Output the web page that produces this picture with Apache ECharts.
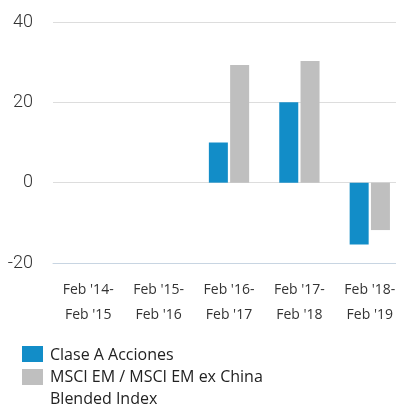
<!DOCTYPE html>
<html>
<head>
<meta charset="utf-8">
<script src="https://cdn.jsdelivr.net/npm/echarts@6/dist/echarts.min.js"></script>
<style>
  html, body { margin: 0; padding: 0; background: #fff; }
  #chart { width: 396px; height: 408px; }
</style>
</head>
<body>
<div id="chart"></div>
<script>
// Annual periods (Feb to Feb)
const categories = [
  "Feb '14-\nFeb '15",
  "Feb '15-\nFeb '16",
  "Feb '16-\nFeb '17",
  "Feb '17-\nFeb '18",
  "Feb '18-\nFeb '19"
];
const seriesNames = ["Clase A Acciones", "MSCI EM / MSCI EM ex China\nBlended Index"];
// Returns (%) per period; no data for the first two periods
const classA = [null, null, 10.0, 20.0, -15.4];
const benchmark = [null, null, 29.3, 30.3, -11.8];
const yTicks = [-20, 0, 20, 40];

const colors = ["#128dc8", "#bfbfbf"];

const chart = echarts.init(document.getElementById('chart'), null, { renderer: 'canvas' });

const legendFont = { fontFamily: 'Open Sans', fontSize: 16, fill: '#222' };

chart.setOption({
  animation: false,
  grid: {
    left: 53, top: 22, width: 352, bottom: 145,
    containLabel: false,
    outerBoundsMode: 'none'
  },
  xAxis: {
    type: 'category',
    data: categories,
    axisLine: { show: true, onZero: false, lineStyle: { color: '#c8d5e2', width: 1 } },
    axisTick: { show: false },
    axisLabel: {
      color: '#333',
      fontFamily: 'Open Sans',
      fontSize: 14,
      lineHeight: 25,
      margin: 15
    }
  },
  yAxis: {
    type: 'value',
    min: yTicks[0],
    max: yTicks[yTicks.length - 1],
    interval: 20,
    axisLine: { show: false },
    axisTick: { show: false },
    splitLine: { lineStyle: { color: '#dddddd', width: 1 } },
    axisLabel: {
      color: '#333',
      fontFamily: 'Roboto',
      fontWeight: 300,
      fontSize: 18,
      margin: 20
    }
  },
  series: [
    {
      name: seriesNames[0],
      type: 'bar',
      data: classA,
      barWidth: 19,
      barGap: '12%',
      itemStyle: { color: colors[0] }
    },
    {
      name: seriesNames[1],
      type: 'bar',
      data: benchmark,
      barWidth: 19,
      itemStyle: { color: colors[1] }
    }
  ],
  graphic: [
    { type: 'rect', left: 22, top: 346, shape: { width: 21, height: 16 }, style: { fill: colors[0] } },
    { type: 'text', left: 50, top: 344, style: Object.assign({ text: seriesNames[0], lineHeight: 22 }, legendFont) },
    { type: 'rect', left: 22, top: 369, shape: { width: 21, height: 16 }, style: { fill: colors[1] } },
    { type: 'text', left: 50, top: 366, style: Object.assign({ text: seriesNames[1], lineHeight: 22 }, legendFont) }
  ]
});
</script>
</body>
</html>
